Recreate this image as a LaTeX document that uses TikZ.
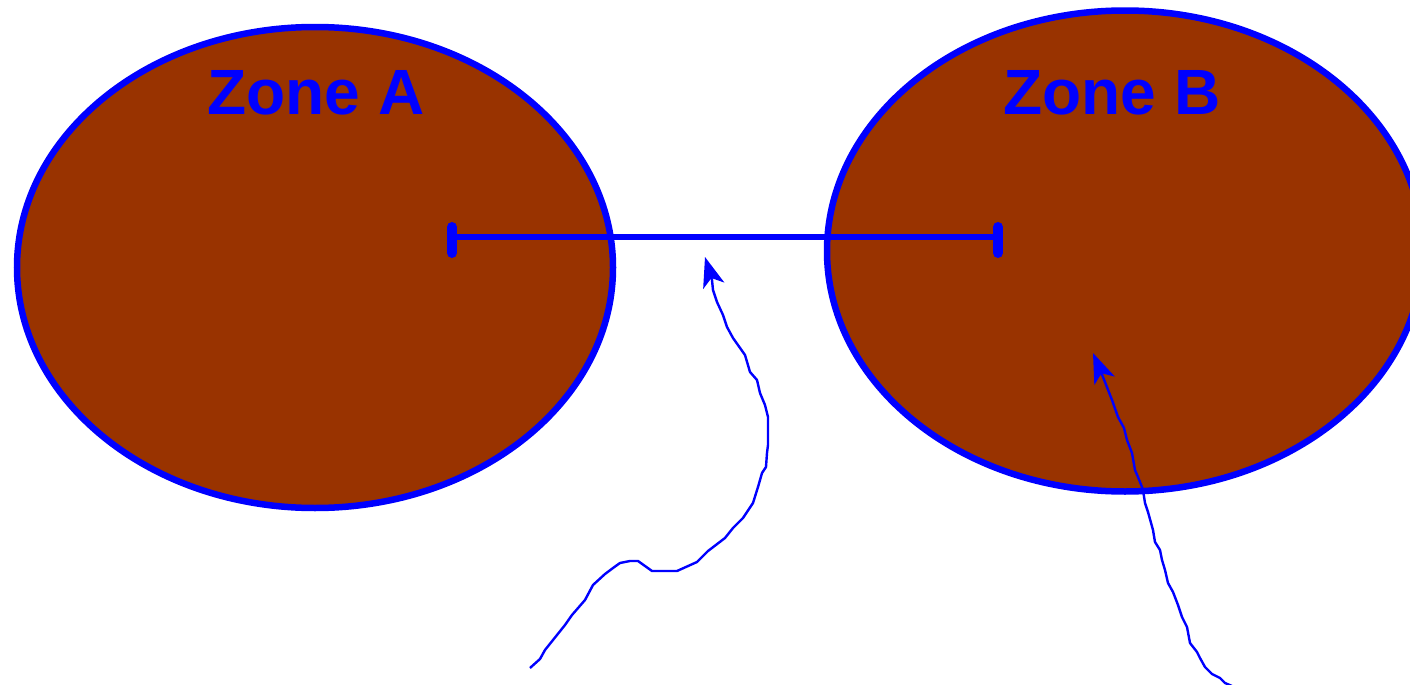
\documentclass[tikz,border=0pt]{standalone}
\usepackage{fontspec}
\setmainfont{Liberation Sans}
\usetikzlibrary{shapes.geometric,arrows.meta}
\definecolor{zonefill}{HTML}{993300}
\definecolor{zoneblue}{HTML}{0000FF}
\begin{document}
\begin{tikzpicture}[x=0.5pt,y=-0.5pt,
  zone/.style={ellipse,draw=zoneblue,fill=zonefill,line width=3.25pt,inner sep=0pt,
    minimum width=298pt,minimum height=240.5pt},
  zonelabel/.style={anchor=base,text=zoneblue,font=\bfseries\fontsize{32}{38}\selectfont,inner sep=0pt},
  span/.style={draw=zoneblue,line width=3pt},
  spanbar/.style={draw=zoneblue,line width=5pt,line cap=round},
  wiggle/.style={draw=zoneblue,line width=1.2pt,line join=round,
    -{Stealth[length=15pt,width=11pt,inset=4pt]}}]
\useasboundingbox (0,0) rectangle (1410,685);
\begin{scope}
\clip (0,0) rectangle (1410,685);
\node[zone] (zoneA) at (315,267.5) {};
\node[zone] (zoneB) at (1125,251) {};
\end{scope}
\node[zonelabel] (labA) at (316,114) {Zone A};
\node[zonelabel] (labB) at (1112,114) {Zone B};
% span line
\coordinate (sL) at (452,237);
\coordinate (sR) at (998,237);
\coordinate (sLt) at (452,227);
\coordinate (sLb) at (452,253);
\coordinate (sRt) at (998,227);
\coordinate (sRb) at (998,253);
\draw[span] (sL) -- (sR);
\draw[spanbar] (sLt) -- (sLb);
\draw[spanbar] (sRt) -- (sRb);
% wiggly arrow 1
\coordinate (w1s) at (530,668);
\coordinate (w1e) at (705,257);
\draw[wiggle] (w1s) -- (540,659) -- (545,650) -- (557,635) -- (565,625) -- (572,615)
  -- (585,600) -- (593,585) -- (605,574) -- (613,568) -- (620,563) -- (630,561)
  -- (638,561) -- (652,571) -- (677,571) -- (697,562) -- (708,551) -- (725,538)
  -- (733,528) -- (743,518) -- (753,503) -- (758,487) -- (762,473) -- (766,467)
  -- (767,453) -- (768,445) -- (768,417) -- (765,405) -- (760,393) -- (757,380)
  -- (750,372) -- (745,355) -- (733,338) -- (727,327) -- (723,315) -- (717,302)
  -- (713,290) -- (712,280) -- (w1e);
% wiggly arrow 2
\coordinate (w2s) at (1232,686);
\coordinate (w2e) at (1093,353);
\draw[wiggle] (w2s) -- (1225,683) -- (1220,678) -- (1212,674) -- (1205,667) -- (1200,658)
  -- (1197,652) -- (1190,643) -- (1187,627) -- (1182,617) -- (1178,605) -- (1173,592)
  -- (1168,583) -- (1165,570) -- (1162,560) -- (1160,550) -- (1155,542) -- (1153,530)
  -- (1148,512) -- (1145,503) -- (1143,490) -- (1142,487) -- (1138,477) -- (1135,470)
  -- (1132,453) -- (1127,440) -- (1124,428) -- (1118,417) -- (1112,400) -- (1103,377)
  -- (w2e);
\end{tikzpicture}
\end{document}
